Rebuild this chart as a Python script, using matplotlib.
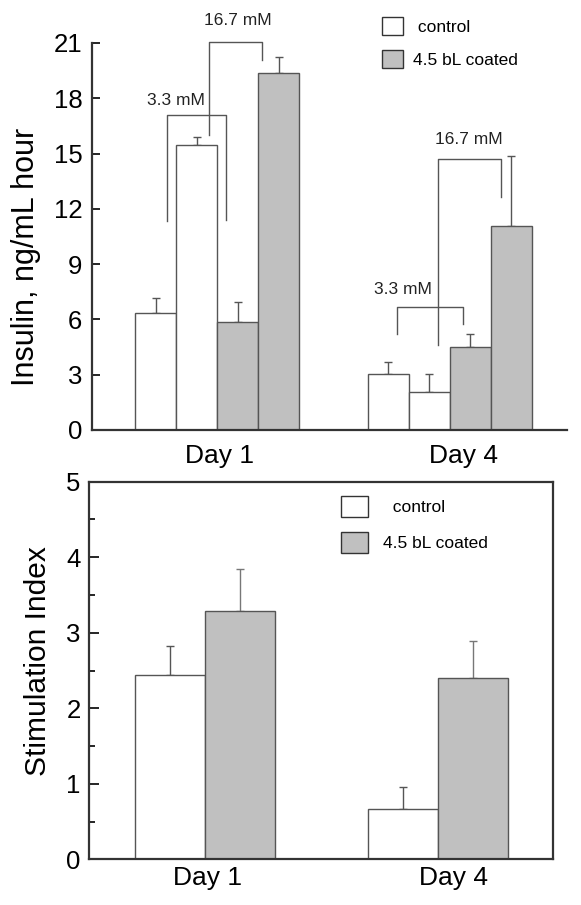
import numpy as np
import matplotlib
matplotlib.use('Agg')
import matplotlib.pyplot as plt
from matplotlib.patches import Patch
from matplotlib.ticker import MultipleLocator

plt.rcParams['font.family'] = ['Liberation Sans', 'DejaVu Sans']

# ---- data -------------------------------------------------------------
days = ['Day 1', 'Day 4']
series = ['control', '4.5 bL coated']

# insulin, ng/mL hour : control 3.3, control 16.7, coated 3.3, coated 16.7
ins_day1 = [6.35, 15.45, 5.85, 19.35]
ins_day1_err = [0.80, 0.47, 1.08, 0.87]
ins_day4 = [3.05, 2.05, 4.50, 11.05]
ins_day4_err = [0.64, 1.00, 0.69, 3.82]

# stimulation index
si_control = [2.44, 0.67]
si_control_err = [0.38, 0.29]
si_coated = [3.29, 2.40]
si_coated_err = [0.56, 0.49]

white = 'white'
grey = '#c0c0c0'
edge = '#555555'
dark = '#333333'

fig = plt.figure(figsize=(5.81, 9.05), dpi=100)

# ---- top panel: insulin ----------------------------------------------
ax1 = fig.add_axes([0.1583, 0.5249, 0.8176, 0.4276])
centers = [3.05, 8.73]
offsets = np.array([-1.5, -0.5, 0.5, 1.5])
fills = [white, white, grey, grey]
for c, vals, errs in zip(centers, [ins_day1, ins_day4], [ins_day1_err, ins_day4_err]):
    xs = c + offsets
    ax1.bar(xs, vals, width=1.0, color=fills, edgecolor=edge, linewidth=1.0, zorder=2)
    ax1.errorbar(xs, vals, yerr=[np.zeros(4), errs], fmt='none', ecolor=edge,
                 elinewidth=1.0, capsize=3, capthick=1.0, zorder=1)

ax1.set_xlim(0, 11.585)
ax1.set_ylim(0, 21)
ax1.set_yticks(np.arange(0, 22, 3))
ax1.set_xticks([3.12, 9.05])
ax1.set_xticklabels(days)
ax1.tick_params(axis='x', length=0, pad=10, labelsize=19)
ax1.tick_params(axis='y', direction='in', length=6, width=1.2, pad=7, labelsize=18.5)
ax1.spines['top'].set_visible(False)
ax1.spines['right'].set_visible(False)
for s in ['left', 'bottom']:
    ax1.spines[s].set_linewidth(1.6)
    ax1.spines[s].set_color(dark)
ax1.set_ylabel('Insulin, ng/mL hour', fontsize=22)
ax1.yaxis.set_label_coords(-0.107, 0.446)


def bracket(ax, x1, x2, y1, y2, ytop, text, tx, ty):
    ax.plot([x1, x1, x2, x2], [y1, ytop, ytop, y2], color=edge, lw=1.0,
            clip_on=False)
    ax.text(tx, ty, text, ha='center', va='center', fontsize=12.5, color='#222222')


bracket(ax1, 1.83, 3.27, 11.35, 11.39, 17.09, '3.3 mM', 2.05, 17.9)
bracket(ax1, 2.85, 4.15, 16.0, 20.08, 21.07, '16.7 mM', 3.55, 22.2)
bracket(ax1, 7.45, 9.04, 5.21, 5.75, 6.69, '3.3 mM', 7.59, 7.63)
bracket(ax1, 8.43, 9.97, 4.61, 12.63, 14.69, '16.7 mM', 9.2, 15.74)

h1 = [Patch(facecolor=white, edgecolor=dark, linewidth=1.0),
      Patch(facecolor=grey, edgecolor=dark, linewidth=1.0)]
ax1.legend(h1, [' control', '4.5 bL coated'], loc='upper left',
           bbox_to_anchor=(0.61, 1.068), frameon=False, fontsize=12.5,
           borderpad=0, borderaxespad=0, handlelength=1.25, handleheight=1.25,
           labelspacing=0.85, handletextpad=0.55)

# ---- bottom panel: stimulation index ---------------------------------
ax2 = fig.add_axes([0.1532, 0.0505, 0.7986, 0.4172])
gc = np.array([1.66, 4.98])
ax2.bar(gc - 0.5, si_control, width=1.0, color=white, edgecolor=edge, linewidth=1.0, zorder=2)
ax2.bar(gc + 0.5, si_coated, width=1.0, color=grey, edgecolor=edge, linewidth=1.0, zorder=2)
ax2.errorbar(gc - 0.5, si_control, yerr=[np.zeros(2), si_control_err], fmt='none',
             ecolor=edge, elinewidth=1.0, capsize=3, capthick=1.0, zorder=1)
ax2.errorbar(gc + 0.5, si_coated, yerr=[np.zeros(2), si_coated_err], fmt='none',
             ecolor='#777777', elinewidth=1.0, capsize=3, capthick=1.0, zorder=1)

ax2.set_xlim(0, 6.63)
ax2.set_ylim(0, 5)
ax2.yaxis.set_major_locator(MultipleLocator(1))
ax2.yaxis.set_minor_locator(MultipleLocator(0.5))
ax2.set_xticks([1.70, 5.21])
ax2.set_xticklabels(days)
ax2.tick_params(axis='x', length=0, pad=5, labelsize=19)
ax2.tick_params(axis='y', which='major', direction='in', length=7, width=1.2, pad=6, labelsize=18.5)
ax2.tick_params(axis='y', which='minor', direction='in', length=4, width=1.2)
for s in ax2.spines.values():
    s.set_linewidth(1.6)
    s.set_color(dark)
ax2.set_ylabel('Stimulation Index', fontsize=21.5)
ax2.yaxis.set_label_coords(-0.08, 0.525)

h2 = [Patch(facecolor=white, edgecolor=dark, linewidth=1.0),
      Patch(facecolor=grey, edgecolor=dark, linewidth=1.0)]
ax2.legend(h2, ['  control', '4.5 bL coated'], loc='upper left',
           bbox_to_anchor=(0.543, 0.962), frameon=False, fontsize=12.5,
           borderpad=0, borderaxespad=0, handlelength=1.55, handleheight=1.5,
           labelspacing=0.85, handletextpad=0.9)

fig.savefig('out.png', dpi=100)
